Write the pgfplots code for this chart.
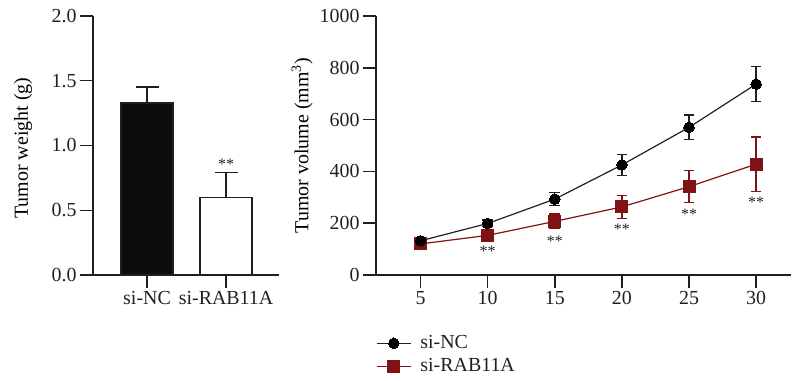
\documentclass[border=0pt]{standalone}
\usepackage{fontspec}
\setmainfont{Liberation Serif}
\usepackage{pgfplots}
\pgfplotsset{compat=1.18}
\definecolor{ink}{RGB}{35,31,32}
\definecolor{dred}{RGB}{128,18,22}
\tikzset{starnode/.style={font=\fontsize{16}{18}\selectfont, text=ink, anchor=base, yshift=-7bp, inner sep=0pt}}
\begin{document}
\begin{tikzpicture}[font=\fontsize{20}{24}\selectfont]
\useasboundingbox (-93bp,-106bp) rectangle (701bp,275bp);
\pgfplotsset{
  base/.style={
    scale only axis, axis lines*=left, tick align=outside,
    major tick length=13bp,
    axis line style={ink, line width=1.5bp},
    every tick/.style={ink, line width=1.5bp},
    tick label style={ink},
    /pgf/number format/assume math mode=true,
    /pgf/number format/1000 sep={},
    label style={ink},
    clip=false,
    height=259bp,
  },
}
\begin{axis}[base, at={(0,0)}, anchor=south west,
  width=186bp, xmin=-0.684, xmax=1.67, ymin=0, ymax=2,
  ytick={0,0.5,1,1.5,2},
  yticklabel style={/pgf/number format/.cd, fixed, fixed zerofill, precision=1},
  xtick={0,1}, xticklabels={si-NC,si-RAB11A},
  ylabel={Tumor weight (g)},
  every axis y label/.style={at={(axis description cs:-0.376,0.49)}, rotate=90, anchor=center},
  ybar, bar width=52bp,
]
\addplot[bar shift=0pt, fill=black!95, draw=ink, line width=1.5bp,
  error bars/.cd, y dir=plus, y explicit,
  error bar style={ink, line width=1.5bp},
  error mark options={rotate=90, ink, line width=1.5bp, mark size=11.5bp}]
  coordinates {(0,1.33) +- (0,0.12)};
\addplot[bar shift=0pt, fill=white, draw=ink, line width=1.5bp,
  error bars/.cd, y dir=plus, y explicit,
  error bar style={ink, line width=1.5bp},
  error mark options={rotate=90, ink, line width=1.5bp, mark size=11.5bp}]
  coordinates {(1,0.60) +- (0,0.19)};
\node[starnode] at (axis cs:1,0.865) {**};
\end{axis}
\begin{axis}[base, at={(283bp,0)}, anchor=south west,
  width=415bp, xmin=1.68, xmax=32.6, ymin=0, ymax=1000,
  xtick={5,10,...,30}, ytick={0,200,...,1000},
  ylabel={Tumor volume (mm\textsuperscript{3})},
  every axis y label/.style={at={(axis description cs:-0.178,0.5)}, rotate=90, anchor=center},
  reverse legend,
  legend style={at={(axis description cs:0.0,-0.228)}, anchor=north west, draw=none, fill=none,
    inner sep=0pt, row sep=5bp, column sep=9bp,
    nodes={inner sep=0pt, anchor=west, text height=14bp, text depth=4bp, text=ink}},
  legend cell align=left,
  legend image code/.code={\draw[mark repeat=2,mark phase=2,#1] plot coordinates {(0bp,0bp) (17bp,0bp) (34bp,0bp)};},
]
\addplot[dred, line width=1.2bp, mark=square*, mark size=6bp, mark options={fill=dred, draw=dred, line width=0pt},
  error bars/.cd, y dir=both, y explicit,
  error bar style={dred, line width=1.3bp},
  error mark options={rotate=90, dred, line width=1.3bp, mark size=5.3bp}]
  coordinates {(5,120) +- (0,6) (10,153) +- (0,10) (15,207) +- (0,28) (20,263) +- (0,44) (25,341) +- (0,62) (30,428) +- (0,105)};
\addlegendentry{si-RAB11A}
\addplot[ink, line width=1.2bp, mark=*, mark size=5.3bp, mark options={fill=black, draw=black, line width=0pt},
  error bars/.cd, y dir=both, y explicit,
  error bar style={ink, line width=1.3bp},
  error mark options={rotate=90, ink, line width=1.3bp, mark size=5.3bp}]
  coordinates {(5,132) +- (0,6) (10,199) +- (0,13) (15,293) +- (0,25) (20,425) +- (0,40) (25,570) +- (0,48) (30,737) +- (0,67)};
\addlegendentry{si-NC}
\node[starnode] at (axis cs:10,99) {**};
\node[starnode] at (axis cs:15,138) {**};
\node[starnode] at (axis cs:20,183) {**};
\node[starnode] at (axis cs:25,242) {**};
\node[starnode] at (axis cs:30,286) {**};
\end{axis}
\end{tikzpicture}
\end{document}
